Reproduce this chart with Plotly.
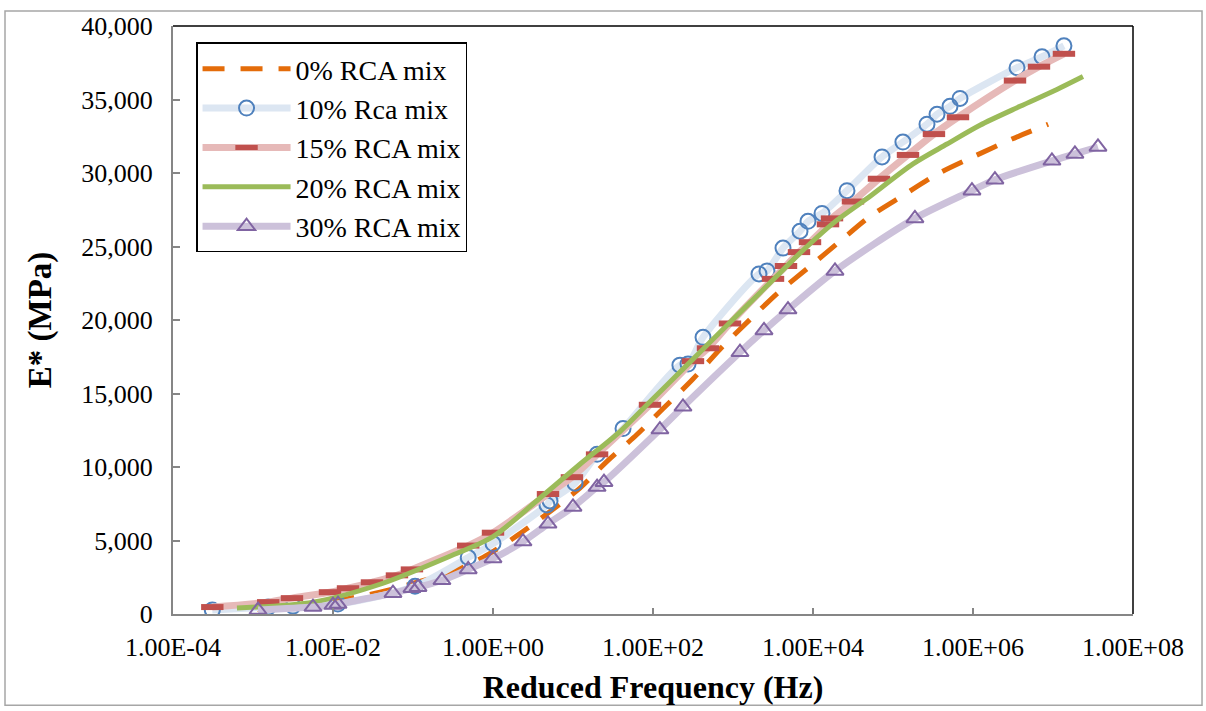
import plotly.graph_objects as go

# ---------------- data ----------------
freq_0 = [1.12e-3, 3.16e-3, 1.22e-2, 3.87e-2, 9.17e-2, 0.266, 0.75, 2.0, 12.2, 26.6, 63, 133,
          316, 688, 1631, 3652, 8660, 21750, 51600, 133000, 365000, 1.06e6, 3.07e6, 8.7e6]
e_0 = [337, 540, 944, 1484, 2024, 2765, 3845, 5329, 8566, 10387, 12208, 13962,
       15986, 18009, 20033, 21854, 23540, 25361, 27047, 28464, 29948, 31161, 32308, 33320]

freq_10 = [3.1e-4, 1.55e-3, 3.16e-3, 1.15e-2, 0.106, 0.49, 1.0, 4.73, 5.16, 10.6, 20, 42.2,
           217, 274, 422, 2113, 2661, 4217, 6880, 8660, 12960, 26600, 72900, 133000,
           266000, 355000, 516000, 688000, 3.55e6, 7.29e6, 1.37e7]
e_10 = [270, 472, 540, 675, 1890, 3845, 4789, 7420, 7690, 8903, 10860, 12613,
        16930, 17000, 18820, 23135, 23340, 24890, 26036, 26710, 27250, 28800, 31095, 32106,
        33320, 33995, 34534, 35074, 37165, 37907, 38650]

freq_15 = [3.1e-4, 1.55e-3, 3.07e-3, 9.17e-3, 1.54e-2, 3.07e-2, 6.3e-2, 9.7e-2, 0.49, 1.0,
           4.87, 9.7, 20, 91.7, 316, 487, 917, 3162, 4597, 6683, 9173, 15400, 17280,
           31600, 66800, 154000, 325000, 649000, 3.35e6, 6.68e6, 1.37e7]
e_15 = [472, 809, 1079, 1484, 1754, 2158, 2630, 3035, 4654, 5531,
        8161, 9308, 10860, 14232, 17200, 18077, 19763, 22798, 23675, 24619, 25294, 26508, 26913,
        28059, 29610, 31229, 32646, 33792, 36288, 37232, 38109]

freq_20 = [6.3e-4, 5.62e-3, 3.87e-2, 0.266, 1.0, 3.87, 12.2, 38.7, 91.7, 266, 562, 1631,
           2661, 6880, 17800, 47300, 178000, 473000, 1.22e6, 3.87e6, 1.12e7, 2.37e7]
e_20 = [405, 809, 2024, 3845, 5261, 7892, 10185, 12411, 14434, 16930, 18684, 21180,
        22326, 24552, 26575, 28262, 30622, 31971, 33250, 34534, 35680, 36558]

freq_30 = [1.155e-3, 5.62e-3, 1.0e-2, 1.155e-2, 5.62e-2, 9.7e-2, 0.1155, 0.23, 0.49, 1.0,
           2.37, 4.87, 10, 20, 24.4, 122, 237, 1223, 2441, 4870, 18840, 188000, 971000,
           1.88e6, 9.7e6, 1.88e7, 3.65e7]
e_30 = [270, 472, 607, 675, 1416, 1754, 1821, 2293, 3035, 3777,
        4924, 6138, 7285, 8634, 8971, 12546, 14097, 17807, 19291, 20707, 23338, 26913, 28801,
        29543, 30825, 31297, 31770]

x_tickvals = [1e-4, 1e-2, 1e0, 1e2, 1e4, 1e6, 1e8]
x_ticktext = ["1.00E-04", "1.00E-02", "1.00E+00", "1.00E+02", "1.00E+04", "1.00E+06", "1.00E+08"]

FONT = "Liberation Serif, Times New Roman, serif"

fig = go.Figure()

fig.add_trace(go.Scatter(
    x=freq_0, y=e_0, name="0% RCA mix", mode="lines",
    line=dict(color="#E46C0A", width=5, dash="22px,16px", shape="spline", smoothing=0.8)))

fig.add_trace(go.Scatter(
    x=freq_10, y=e_10, name="10% Rca mix", mode="lines+markers",
    line=dict(color="#DCE6F2", width=7, shape="spline", smoothing=0.8),
    marker=dict(symbol="circle-open", size=15, color="#4F81BD",
                line=dict(color="#4F81BD", width=2))))

fig.add_trace(go.Scatter(
    x=freq_15, y=e_15, name="15% RCA mix", mode="lines+markers",
    line=dict(color="#E6B9B8", width=7, shape="spline", smoothing=0.8),
    marker=dict(symbol="line-ew", size=16, color="#C0504D",
                line=dict(color="#C0504D", width=6))))

fig.add_trace(go.Scatter(
    x=freq_20, y=e_20, name="20% RCA mix", mode="lines",
    line=dict(color="#9BBB59", width=5, shape="spline", smoothing=0.8)))

fig.add_trace(go.Scatter(
    x=freq_30, y=e_30, name="30% RCA mix", mode="lines+markers",
    line=dict(color="#CCC1DA", width=7, shape="spline", smoothing=0.8),
    marker=dict(symbol="triangle-up-open", size=15, color="#8064A2",
                line=dict(color="#8064A2", width=2))))

fig.update_layout(
    width=1206, height=711,
    margin=dict(l=173, r=73, t=21, b=97),
    paper_bgcolor="white", plot_bgcolor="white",
    font=dict(family=FONT, color="black", size=26),
    showlegend=True,
    legend=dict(
        x=0.024, y=0.972, xanchor="left", yanchor="top",
        bgcolor="white", bordercolor="black", borderwidth=1.5,
        font=dict(family=FONT, size=28, color="black"),
        itemwidth=88, tracegroupgap=0,
        entrywidth=204, entrywidthmode="pixels",
    ),
    xaxis=dict(
        type="log", range=[-4, 8],
        tickvals=x_tickvals, ticktext=x_ticktext,
        ticks="inside", ticklen=6, tickcolor="#868686", tickwidth=1.5,
        showline=True, linecolor="#868686", linewidth=2,
        showgrid=False, zeroline=False,
        tickfont=dict(family=FONT, size=26),
        ticklabelstandoff=9,
        title=dict(text="<b>Reduced Frequency (Hz)</b>", font=dict(family=FONT, size=32), standoff=14),
    ),
    yaxis=dict(
        range=[0, 40000], dtick=5000, tickformat=",",
        ticks="inside", ticklen=7, tickcolor="#868686", tickwidth=1.5,
        showline=True, linecolor="#868686", linewidth=2,
        showgrid=False, zeroline=False,
        tickfont=dict(family=FONT, size=26),
        ticklabelstandoff=13,
        title=dict(text="<b>E* (MPa)</b>", font=dict(family=FONT, size=33), standoff=20),
    ),
    shapes=[
        # outer chart border
        dict(type="rect", xref="paper", yref="paper",
             x0=-0.175, x1=1.0719, y0=-0.1551, y1=1.0253,
             line=dict(color="#A6A6A6", width=1.5), fillcolor="rgba(0,0,0,0)", layer="below"),
        # top and right plot-area border
        dict(type="line", xref="paper", yref="paper", x0=0, x1=1, y0=1, y1=1,
             line=dict(color="black", width=1.5)),
        dict(type="line", xref="paper", yref="paper", x0=1, x1=1, y0=0, y1=1,
             line=dict(color="black", width=1.5)),
    ],
)

fig.write_html("out.html")
